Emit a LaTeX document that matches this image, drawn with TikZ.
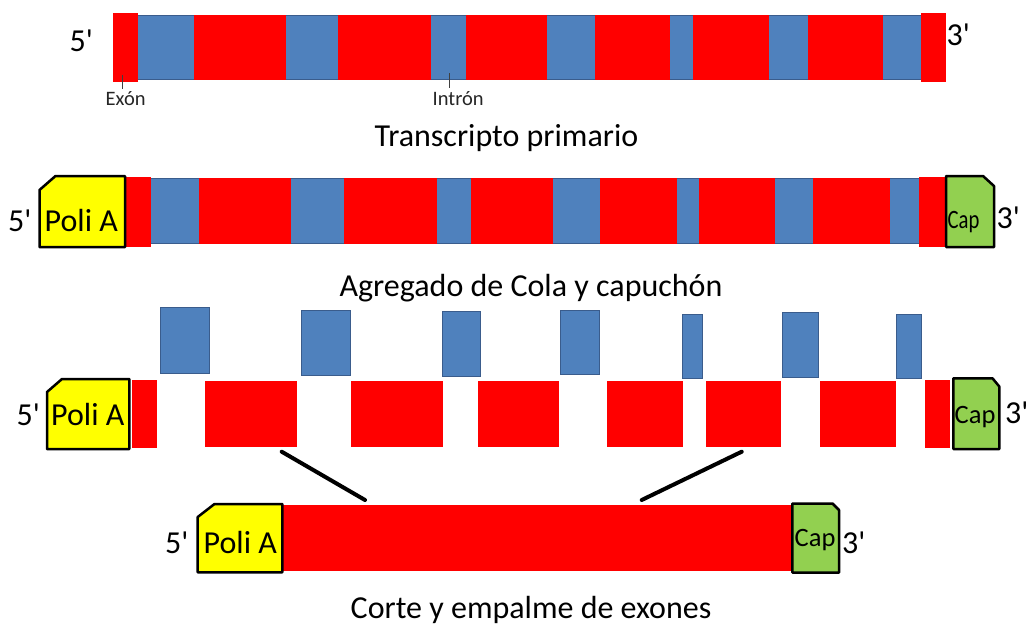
\documentclass[tikz,border=0pt]{standalone}
\usepackage{fontspec}
\setmainfont{Carlito}[Ligatures=TeXOff]
\definecolor{exred}{HTML}{FF0000}
\definecolor{inblue}{HTML}{4F81BD}
\definecolor{inedge}{HTML}{3A5C8C}
\definecolor{tailyellow}{HTML}{FFFF00}
\definecolor{capgreen}{HTML}{92D050}
\tikzset{
  exon/.style={fill=exred},
  intron/.style={fill=inblue},
  bandedge/.style={draw=inedge, line width=1pt},
  cutpiece/.style={fill=inblue, draw=inedge, line width=1pt},
  tailbox/.style={fill=tailyellow, draw=black, line width=2.5pt, line join=round},
  capbox/.style={fill=capgreen, draw=black, line width=2.5pt, line join=round},
  lbl/.style={anchor=base west, inner sep=0pt, font=\fontsize{32}{38}\selectfont},
  smalllbl/.style={anchor=base west, inner sep=0pt, font=\fontsize{20.5}{24}\selectfont, text=black!85},
  caplbl/.style={anchor=base west, inner sep=0pt, font=\fontsize{26.5}{30}\selectfont},
  title/.style={anchor=base, inner sep=0pt, font=\fontsize{32}{38}\selectfont},
  tick/.style={draw=black!75, line width=0.9pt},
  splice/.style={draw=black, line width=4pt, line cap=round}
}
\begin{document}
\begin{tikzpicture}[x=1pt,y=-1pt]
\fill[white] (0,0) rectangle (1029,627);
\useasboundingbox (0,0) rectangle (1029,627);

% ---------- Row 1: Transcripto primario ----------
\fill[intron] (138,15) rectangle (921,80);
\draw[bandedge] (138,15.5) -- (921,15.5);
\draw[bandedge] (138,79.5) -- (921,79.5);
\foreach \a/\b in {194/286,338/431,466/547,595/670,693/769,808/883}
  \fill[exon] (\a,15) rectangle (\b,80);
\fill[exon] (113,13) rectangle (138,82);
\fill[exon] (921,13) rectangle (946,82);
\node[lbl] (r1five) at (69.5,51.7) {5'};
\node[lbl] (r1three) at (946.5,45.7) {3'};
\node[smalllbl] (exlbl) at (105.5,105) {Exón};
\node[smalllbl] (inlbl) at (432.5,105) {Intrón};
\coordinate (extop) at (122.7,75);
\coordinate (exbot) at (122.7,89);
\coordinate (intop) at (449.3,73);
\coordinate (inbot) at (449.3,88);
\draw[tick] (extop) -- (exbot);
\draw[tick] (intop) -- (inbot);
\node[title] (t1) at (506.5,146.7) {Transcripto primario};

% ---------- Row 2: Agregado de Cola y capuchón ----------
\fill[intron] (151,178) rectangle (919,244);
\draw[bandedge] (151,178.5) -- (919,178.5);
\draw[bandedge] (151,243.5) -- (919,243.5);
\foreach \a/\b in {199/291,344/437,471/553,600/677,699/775,813/890}
  \fill[exon] (\a,178) rectangle (\b,244);
\fill[exon] (125,177) rectangle (151,247);
\fill[exon] (919,177) rectangle (946,247);
\draw[tailbox] (39.5,190) -- (55.5,176) -- (125,176) -- (125,247) -- (39.5,247) -- cycle;
\draw[capbox] (946,176) -- (983,176) -- (994,186) -- (994,247) -- (946,247) -- cycle;
\node[lbl] (r2five) at (8,231.7) {5'};
\node[lbl] (r2poli) at (44.5,231.7) {Poli A};
\node[caplbl] (r2cap) at (947.5,228.3) {\scalebox{0.78}[1]{Cap}};
\node[lbl] (r2three) at (996.5,228) {3'};
\node[title] (t2) at (531,296.5) {Agregado de Cola y capuchón};

% ---------- Row 3: cut pieces ----------
\foreach \a/\b/\c/\d in {160/307.7/209/373.3, 301/310/350/375, 442.7/311/480/376,
    560/310.7/599/374, 682.7/314/702.7/378.3, 782.7/312.7/818.3/377.3, 896/314/921.7/378.3}
  \draw[cutpiece] (\a,\b) rectangle (\c,\d);
\foreach \a/\b in {205/297.3,350.7/442.7,477.7/559.3,606.7/682.7,706/780.7,820/896}
  \fill[exon] (\a,381) rectangle (\b,446.7);
\fill[exon] (132.3,380) rectangle (156.7,448.3);
\fill[exon] (925,380) rectangle (950,448.3);
\draw[tailbox] (47,392) -- (62,379) -- (129.3,379) -- (129.3,449) -- (47,449) -- cycle;
\draw[capbox] (953.3,378.3) -- (992.5,378.3) -- (999.3,386.5) -- (999.3,449) -- (953.3,449) -- cycle;
\node[lbl] (r3five) at (16.5,425) {5'};
\node[lbl] (r3poli) at (51,425) {Poli A};
\node[caplbl] (r3cap) at (954.5,423.3) {Cap};
\node[lbl] (r3three) at (1005,423.5) {3'};

% ---------- Row 4: Corte y empalme ----------
\fill[exon] (282.3,505) rectangle (792.3,571);
\draw[tailbox] (197.7,517) -- (214.5,504) -- (282.3,504) -- (282.3,572.3) -- (197.7,572.3) -- cycle;
\draw[capbox] (792.3,503.5) -- (832.5,503.5) -- (839,510) -- (839,572.5) -- (792.3,572.5) -- cycle;
\node[lbl] (r4five) at (165,553.3) {5'};
\node[lbl] (r4poli) at (203.5,553.3) {Poli A};
\node[caplbl] (r4cap) at (794.5,546) {Cap};
\node[lbl] (r4three) at (842,553) {3'};
\coordinate (s1a) at (281.7,451.7);
\coordinate (s1b) at (365,500);
\coordinate (s2a) at (741.7,451.7);
\coordinate (s2b) at (641.7,500);
\draw[splice] (s1a) -- (s1b);
\draw[splice] (s2a) -- (s2b);
\node[title] (t4) at (531,618) {Corte y empalme de exones};
\end{tikzpicture}
\end{document}
